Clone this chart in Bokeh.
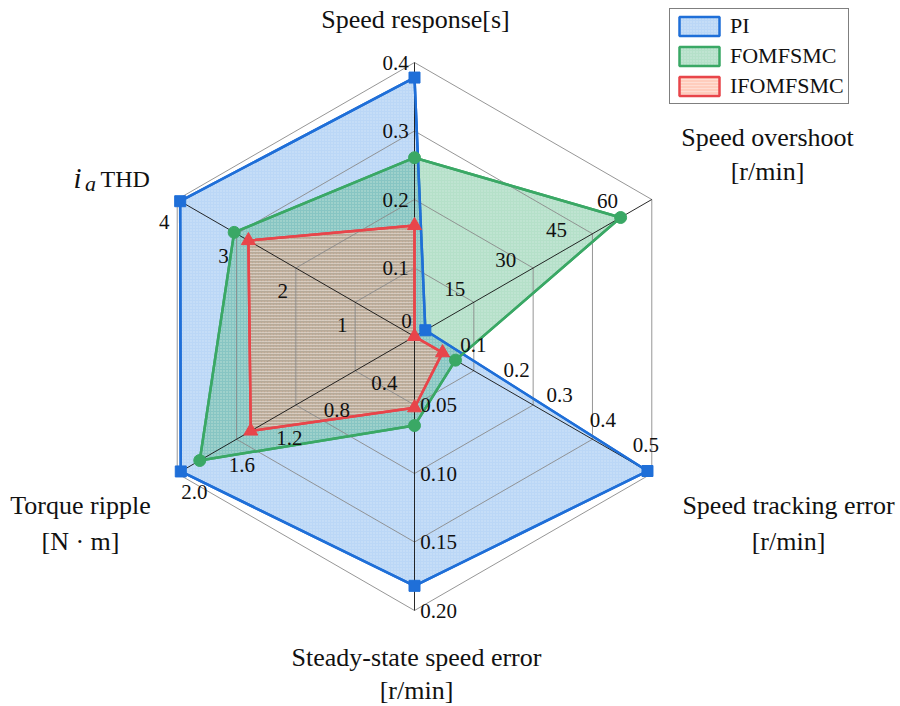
import numpy as np
from bokeh.plotting import figure
from bokeh.models import Range1d, Legend, LegendItem
from bokeh.embed import file_html
from bokeh.resources import INLINE
from bokeh.core.properties import value

# ---------------- data ----------------
axis_angles_deg = [90, 30, -30, -90, -150, 150]
axis_max = [0.4, 70.0, 0.55, 0.20, 2.0, 4.0]

pi_vals = [0.378, 3.2, 0.54, 0.182, 1.97, 3.95]
fomfsmc_vals = [0.261, 60.8, 0.095, 0.065, 1.81, 3.04]
ifomfsmc_vals = [0.162, 0.0, 0.065, 0.052, 1.38, 2.80]

sr_ticks = [0.1, 0.2, 0.3, 0.4]
sr_labels = ["0.1", "0.2", "0.3", "0.4"]
so_ticks = [15, 30, 45, 60]
so_labels = ["15", "30", "45", "60"]
ste_ticks = [0.1, 0.2, 0.3, 0.4, 0.5]
ste_labels = ["0.1", "0.2", "0.3", "0.4", "0.5"]
sse_ticks = [0.05, 0.10, 0.15, 0.20]
sse_labels = ["0.05", "0.10", "0.15", "0.20"]
tr_ticks = [0.4, 0.8, 1.2, 1.6, 2.0]
tr_labels = ["0.4", "0.8", "1.2", "1.6", "2.0"]
thd_ticks = [1, 2, 3, 4]
thd_labels = ["1", "2", "3", "4"]

ring_fracs = [0.25, 0.5, 0.75, 1.0]

# ---------------- layout ----------------
W, H = 900, 706
R = 274.0              # pixels per unit radius
CX, CY = 414.0, 336.0  # centre, from figure top-left
PX = 1.0 / R

ang = np.radians(axis_angles_deg)
ux, uy = np.cos(ang), np.sin(ang)

p = figure(width=W, height=H, output_backend="svg", toolbar_location=None,
           x_range=Range1d(-CX / R, (W - CX) / R),
           y_range=Range1d(-(H - CY) / R, CY / R),
           min_border=0, outline_line_color=None)
p.axis.visible = False
p.grid.visible = False
p.background_fill_color = "white"

FONT = "'Liberation Serif', 'Times New Roman', serif"


def poly(vals):
    f = np.array(vals) / np.array(axis_max)
    xs = list(f * ux) + [f[0] * ux[0]]
    ys = list(f * uy) + [f[0] * uy[0]]
    return xs, ys


series = [
    ("PI", pi_vals, "#1f6fd8", (60, 140, 230), 0.35, "square", 11, "dot"),
    ("FOMFSMC", fomfsmc_vals, "#3aa865", (30, 160, 90), 0.33, "circle", 12, "dot"),
    ("IFOMFSMC", ifomfsmc_vals, "#e8454a", (255, 130, 90), 0.40, "triangle", 14, "horizontal_line"),
]

patch_renderers = []
for name, vals, lc, fc, fa, mk, ms, hp in series:
    xs, ys = poly(vals)
    r = p.patch(xs[:-1], ys[:-1], fill_color="#%02x%02x%02x" % fc, fill_alpha=fa,
                line_color=lc, line_width=2.5,
                hatch_pattern=hp, hatch_color="white", hatch_alpha=0.35,
                hatch_scale=3, hatch_weight=1)
    patch_renderers.append(r)

# grid rings
ring_xs, ring_ys = [], []
for fr in ring_fracs:
    ring_xs.append(list(fr * ux) + [fr * ux[0]])
    ring_ys.append(list(fr * uy) + [fr * uy[0]])
p.multi_line(ring_xs, ring_ys, line_color="#8a8a8a", line_width=0.9)
# spokes
p.multi_line([[0, x] for x in ux], [[0, y] for y in uy], line_color="#111111", line_width=0.9)

# outlines and markers on top
for name, vals, lc, fc, fa, mk, ms, hp in series:
    xs, ys = poly(vals)
    p.line(xs, ys, line_color=lc, line_width=2.5)
    p.scatter(xs[:-1], ys[:-1], marker=mk, size=ms, fill_color=lc, line_color=lc)

# ---------------- tick labels ----------------
tick_specs = [
    # ticks, labels, axis index, along offset (frac), offset px (dx, dy up)
    (sr_ticks, sr_labels, 0, 0.0, (-19, 0)),
    (so_ticks, so_labels, 1, 0.0, (-10.5, 18.2)),
    (ste_ticks, ste_labels, 2, 0.02, (11, 19)),
    (sse_ticks, sse_labels, 3, 0.0, (24, 0)),
    (tr_ticks, tr_labels, 4, -0.02, (12.5, -21.6)),
    (thd_ticks, thd_labels, 5, 0.0, (-13, -22.5)),
]
tx, ty, tt = [], [], []
for ticks, labels, i, df, (ox, oy) in tick_specs:
    for v, lab in zip(ticks, labels):
        f = v / axis_max[i] + df
        tx.append(f * ux[i] + ox * PX)
        ty.append(f * uy[i] + oy * PX)
        tt.append(lab)
tx.append(-8 * PX)
ty.append(16 * PX)
tt.append("0")
p.text(tx, ty, text=tt, text_font=value(FONT), text_font_size="21px",
       text_align="center", text_baseline="middle", text_color="#111111")


# ---------------- axis titles ----------------
def page_to_data(px_, py_):
    return (px_ - CX) / R, (CY - py_) / R


titles = [
    ("Speed response[s]", 415, 19),
    ("Speed overshoot", 767, 137),
    ("[r/min]", 767, 171),
    ("Speed tracking error", 788, 505),
    ("[r/min]", 788, 541),
    ("Steady-state speed error", 416, 657),
    ("[r/min]", 416, 690),
    ("Torque ripple", 80, 505),
    ("[N \u00b7 m]", 80, 541),
]
ttx, tty, ttt = [], [], []
for t, a, b in titles:
    x_, y_ = page_to_data(a, b)
    ttx.append(x_)
    tty.append(y_)
    ttt.append(t)
p.text(ttx, tty, text=ttt, text_font=value(FONT), text_font_size="26px",
       text_align="center", text_baseline="middle", text_color="#111111")

# i_a THD
xi, yi = page_to_data(77, 177)
p.text([xi], [yi], text=["i"], text_font=value(FONT), text_font_size="29px",
       text_font_style="italic", text_align="center", text_baseline="alphabetic", text_color="#111111")
xa, ya = page_to_data(90, 183)
p.text([xa], [ya], text=["a"], text_font=value(FONT), text_font_size="22px",
       text_font_style="italic", text_align="center", text_baseline="alphabetic", text_color="#111111")
xt, yt = page_to_data(100, 178)
p.text([xt], [yt], text=["THD"], text_font=value(FONT), text_font_size="24px",
       text_align="left", text_baseline="alphabetic", text_color="#111111")

# ---------------- legend ----------------
legend = Legend(items=[LegendItem(label=s[0], renderers=[r]) for s, r in zip(series, patch_renderers)],
                location=(669, H - 104), orientation="vertical",
                glyph_width=50, glyph_height=24, label_height=24, label_standoff=6,
                padding=4, spacing=4, margin=0,
                label_text_font=FONT, label_text_font_size="22px", label_text_color="#111111",
                border_line_color="black", border_line_width=1,
                background_fill_color="white", background_fill_alpha=1.0)
p.add_layout(legend)

open("out.html", "w").write(file_html(p, INLINE))
